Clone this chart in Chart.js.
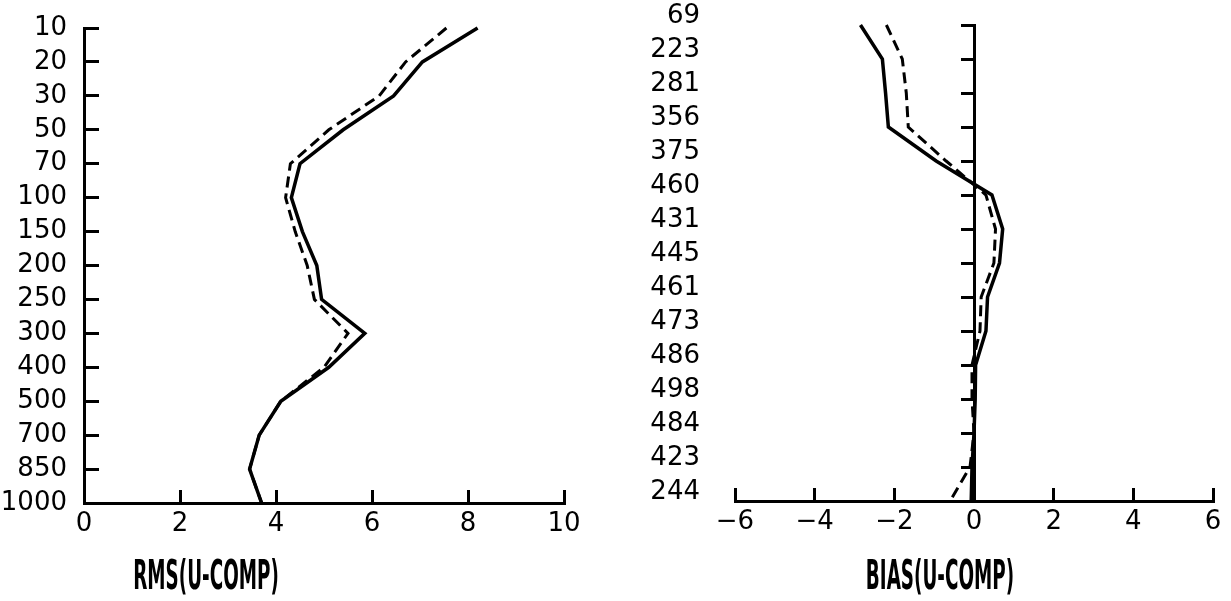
<!DOCTYPE html>
<html>
<head>
<meta charset="utf-8">
<script src="https://cdn.jsdelivr.net/npm/chart.js@4.4.1/dist/chart.umd.min.js"></script>
<style>
  html, body { margin: 0; padding: 0; background: #fff; }
  #wrap { position: relative; width: 1231px; height: 601px; overflow: hidden; }
  #rms { position: absolute; left: 0; top: 0; }
  #bias { position: absolute; left: 615px; top: 0; }
  .cap {
    position: absolute; top: 552px;
    font-family: 'Liberation Sans Narrow', 'DejaVu Sans Condensed', sans-serif;
    font-weight: bold; font-size: 40px; color: #000; white-space: nowrap;
    transform: translateX(-50%) scaleX(0.51);
  }
</style>
</head>
<body>
<div id="wrap">
  <canvas id="rms" width="615" height="601"></canvas>
  <canvas id="bias" width="616" height="601"></canvas>
  <div class="cap" style="left:206px">RMS(U-COMP)</div>
  <div class="cap" style="left:940px">BIAS(U-COMP)</div>
</div>
<script>
// pressure levels, top to bottom
const levels = ['10','20','30','50','70','100','150','200','250','300','400','500','700','850','1000'];
// left panel
const rmsSolid  = [8.2, 7.05, 6.45, 5.4, 4.5, 4.32, 4.55, 4.85, 4.95, 5.85, 5.1, 4.1, 3.65, 3.45, 3.7];
const rmsDashed = [7.55, 6.7, 6.15, 5.1, 4.3, 4.2, 4.4, 4.65, 4.8, 5.5, 5.0, 4.1, 3.65, 3.45, 3.7];
// right panel, labels are the number of cases per level
const biasCounts = ['69','223','281','356','375','460','431','445','461','473','486','498','484','423','244'];
const biasSolid  = [-2.85, -2.3, -2.22, -2.15, -0.95, 0.45, 0.72, 0.64, 0.34, 0.3, 0.04, 0.03, 0.0, -0.05, -0.07];
const biasDashed = [-2.2, -1.8, -1.7, -1.65, -0.7, 0.3, 0.54, 0.5, 0.18, 0.15, -0.05, -0.05, 0.0, -0.1, -0.6];

Chart.defaults.font.family = "'DejaVu Sans', sans-serif";
Chart.defaults.font.size = 26;
Chart.defaults.color = '#000';

const black = '#000';

function lines(solid, dashed) {
  return [
    { data: solid, borderColor: black, borderWidth: 3.5, pointRadius: 0, clip: false },
    { data: dashed, borderColor: black, borderWidth: 3, borderDash: [11, 6], pointRadius: 0, clip: false }
  ];
}

// fixed axis sizes, and no extra room for the end labels
function fixX(h) {
  return s => { s.height = h; s.paddingLeft = 0; s.paddingRight = 0; };
}
function fixY(w) {
  return s => { s.width = w; s.paddingTop = 0; s.paddingBottom = 0; };
}

new Chart(document.getElementById('rms'), {
  type: 'line',
  data: { labels: levels, datasets: lines(rmsSolid, rmsDashed) },
  options: {
    indexAxis: 'y',
    responsive: false,
    animation: false,
    layout: { padding: { top: 28, right: 51, left: 0, bottom: 0 } },
    plugins: { legend: { display: false }, tooltip: { enabled: false } },
    scales: {
      x: {
        type: 'linear', min: 0, max: 10,
        ticks: { stepSize: 2, padding: 19 },
        grid: { drawOnChartArea: false, tickLength: -13, color: black, lineWidth: 3 },
        border: { color: black, width: 3 },
        afterFit: fixX(98)
      },
      y: {
        type: 'category', offset: false,
        ticks: { padding: 32, autoSkip: false },
        grid: { drawOnChartArea: false, tickLength: -15, color: black, lineWidth: 3 },
        border: { color: black, width: 3 },
        afterFit: fixY(84)
      }
    }
  }
});

new Chart(document.getElementById('bias'), {
  type: 'line',
  data: { labels: biasCounts, datasets: lines(biasSolid, biasDashed) },
  options: {
    indexAxis: 'y',
    responsive: false,
    animation: false,
    layout: { padding: { top: 25, right: 18, left: 0, bottom: 0 } },
    plugins: { legend: { display: false }, tooltip: { enabled: false } },
    scales: {
      x: {
        type: 'linear', min: -6, max: 6,
        ticks: {
          stepSize: 2, padding: 19,
          callback: v => v < 0 ? '\u2212' + Math.abs(v) : String(v)
        },
        grid: { drawOnChartArea: false, tickLength: -13, color: black, lineWidth: 3 },
        border: { color: black, width: 3 },
        afterFit: fixX(100)
      },
      y: {
        type: 'category', offset: false,
        ticks: { padding: 35, labelOffset: -9, autoSkip: false },
        grid: { display: false, drawTicks: false },
        border: { display: false },
        afterFit: fixY(120)
      },
      // the zero line with its level ticks
      y2: {
        type: 'category', axis: 'y', position: { x: 0 }, offset: false,
        ticks: { display: false },
        grid: { drawOnChartArea: false, tickLength: 12, color: black, lineWidth: 3 },
        border: { color: black, width: 3 },
        afterFit: s => { s.paddingTop = 0; s.paddingBottom = 0; }
      }
    }
  }
});
</script>
</body>
</html>
